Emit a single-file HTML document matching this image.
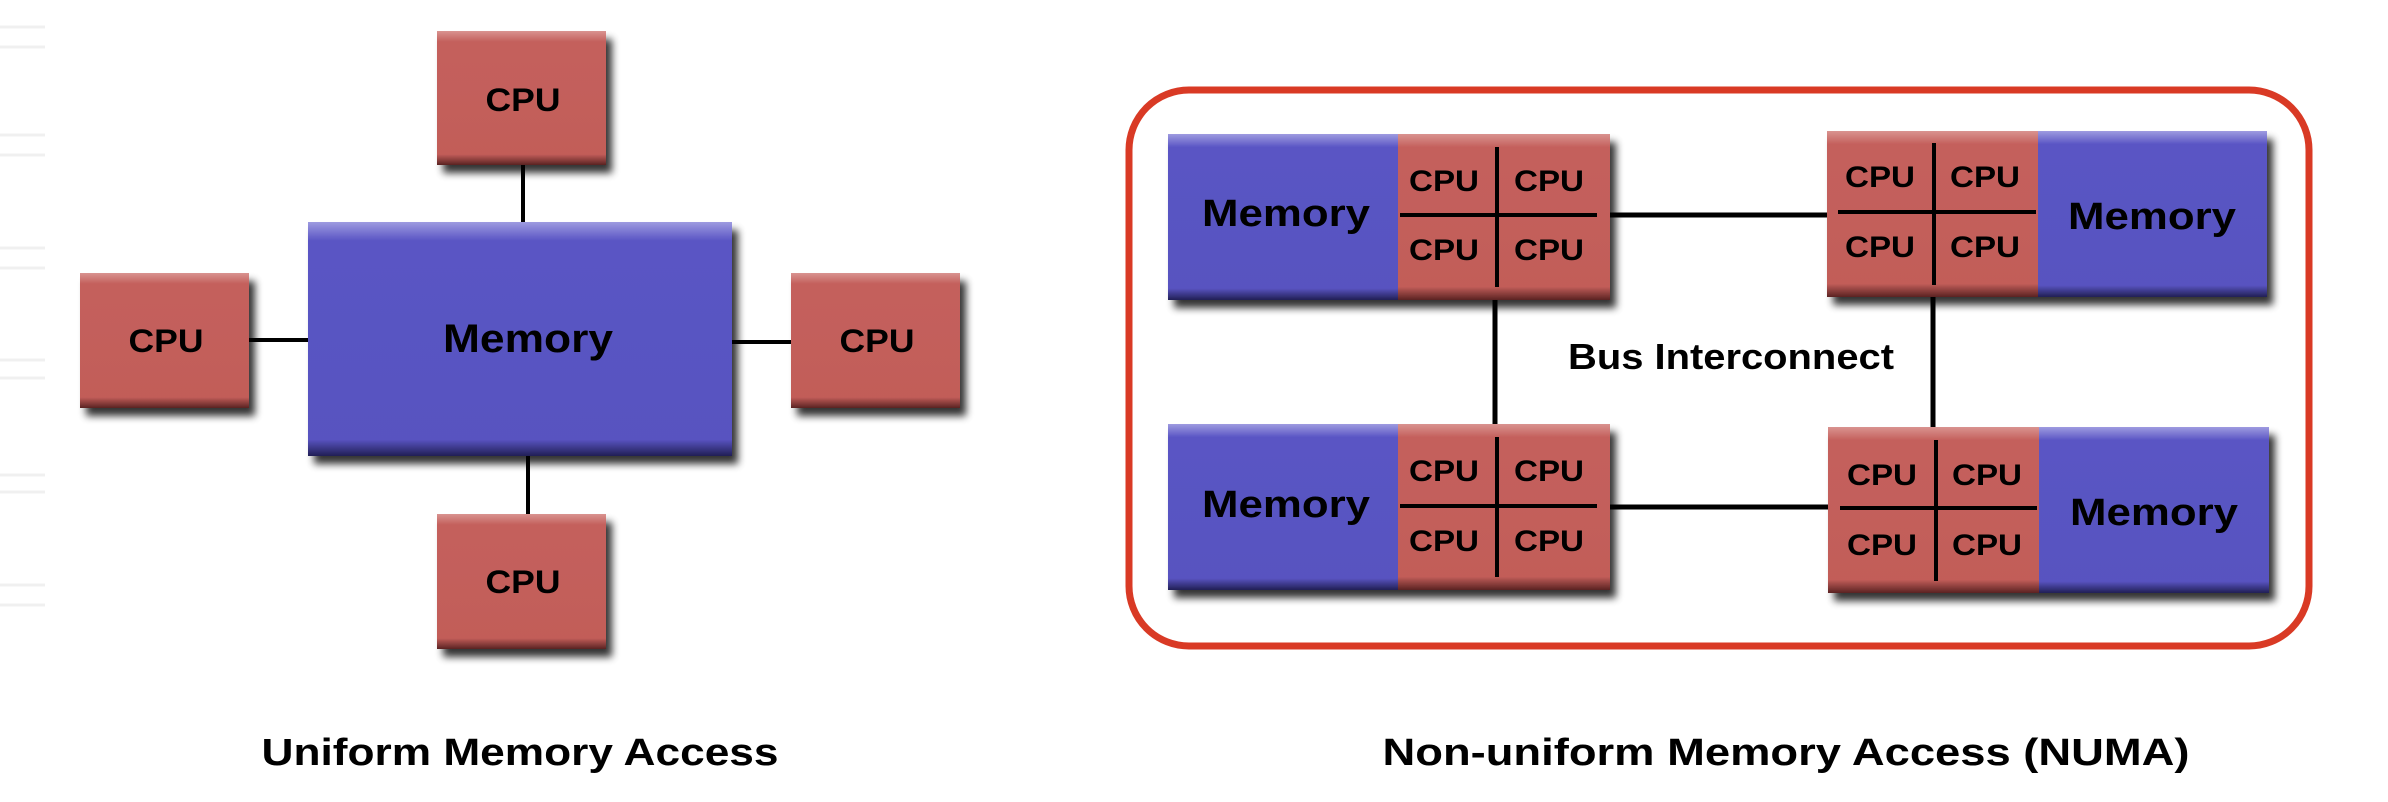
<!DOCTYPE html>
<html><head><meta charset="utf-8"><style>
html,body{margin:0;padding:0;background:#fff;width:2388px;height:802px;overflow:hidden}
svg{display:block}
text{font-family:"Liberation Sans",Arial,sans-serif;font-weight:bold;fill:#000}
</style></head><body>
<svg width="2388" height="802" viewBox="0 0 2388 802" xmlns="http://www.w3.org/2000/svg">
<defs>
<filter id="sh" x="-10%" y="-10%" width="130%" height="140%">
<feGaussianBlur in="SourceAlpha" stdDeviation="4"/>
<feOffset dx="6" dy="8" result="b"/>
<feComponentTransfer><feFuncA type="linear" slope="0.8"/></feComponentTransfer>
<feMerge><feMergeNode/><feMergeNode in="SourceGraphic"/></feMerge>
</filter>
<linearGradient id="rg" x1="0" y1="0" x2="0" y2="1">
<stop offset="0" stop-color="#d99390"/><stop offset="0.08" stop-color="#c4605c"/><stop offset="0.92" stop-color="#c25d59"/><stop offset="1" stop-color="#5a2322"/>
</linearGradient>
<linearGradient id="bg" x1="0" y1="0" x2="0" y2="1">
<stop offset="0" stop-color="#9e9be0"/><stop offset="0.08" stop-color="#5a55c4"/><stop offset="0.93" stop-color="#5853c0"/><stop offset="1" stop-color="#211f55"/>
</linearGradient>
</defs>
<g stroke="#f0f0f0" stroke-width="3">
<line x1="0" y1="27" x2="45" y2="27"/><line x1="0" y1="47" x2="45" y2="47"/>
<line x1="0" y1="135" x2="45" y2="135"/><line x1="0" y1="155" x2="45" y2="155"/>
<line x1="0" y1="248" x2="45" y2="248"/><line x1="0" y1="268" x2="45" y2="268"/>
<line x1="0" y1="360" x2="45" y2="360"/><line x1="0" y1="378" x2="45" y2="378"/>
<line x1="0" y1="475" x2="45" y2="475"/><line x1="0" y1="492" x2="45" y2="492"/>
<line x1="0" y1="585" x2="45" y2="585"/><line x1="0" y1="605" x2="45" y2="605"/>
</g>

<!-- UMA -->
<g stroke="#000" stroke-width="4">
<line x1="523" y1="160" x2="523" y2="225"/>
<line x1="528" y1="455" x2="528" y2="518"/>
<line x1="247" y1="340" x2="310" y2="340"/>
<line x1="732" y1="342" x2="792" y2="342"/>
</g>
<g filter="url(#sh)">
<rect x="437" y="31" width="169" height="134" fill="url(#rg)"/>
<rect x="308" y="222" width="424" height="234" fill="url(#bg)"/>
<rect x="80" y="273" width="169" height="135" fill="url(#rg)"/>
<rect x="791" y="273" width="169" height="135" fill="url(#rg)"/>
<rect x="437" y="514" width="169" height="135" fill="url(#rg)"/>
</g>
<g text-anchor="middle" font-size="32">
<text x="523" y="111" textLength="75" lengthAdjust="spacingAndGlyphs">CPU</text>
<text x="166" y="352" textLength="75" lengthAdjust="spacingAndGlyphs">CPU</text>
<text x="877" y="352" textLength="75" lengthAdjust="spacingAndGlyphs">CPU</text>
<text x="523" y="593" textLength="75" lengthAdjust="spacingAndGlyphs">CPU</text>
<text x="528" y="352" font-size="40" textLength="170" lengthAdjust="spacingAndGlyphs">Memory</text>
</g>
<text x="520" y="765" text-anchor="middle" font-size="38" textLength="517" lengthAdjust="spacingAndGlyphs">Uniform Memory Access</text>

<!-- NUMA -->
<rect x="1129" y="90" width="1180" height="556" rx="60" ry="60" fill="#fff" stroke="#d93a25" stroke-width="7"/>
<g stroke="#000" stroke-width="5">
<line x1="1605" y1="215" x2="1830" y2="215"/>
<line x1="1605" y1="507" x2="1832" y2="507"/>
<line x1="1495" y1="295" x2="1495" y2="428"/>
<line x1="1933" y1="295" x2="1933" y2="430"/>
</g>
<g filter="url(#sh)">
<rect x="1168" y="134" width="230" height="166" fill="url(#bg)"/>
<rect x="1398" y="134" width="212" height="166" fill="url(#rg)"/>
<rect x="1827" y="131" width="211" height="166" fill="url(#rg)"/>
<rect x="2038" y="131" width="229" height="166" fill="url(#bg)"/>
<rect x="1168" y="424" width="230" height="166" fill="url(#bg)"/>
<rect x="1398" y="424" width="212" height="166" fill="url(#rg)"/>
<rect x="1828" y="427" width="211" height="166" fill="url(#rg)"/>
<rect x="2039" y="427" width="230" height="166" fill="url(#bg)"/>
</g>
<g stroke="#000" stroke-width="4">
<line x1="1497" y1="147" x2="1497" y2="287"/><line x1="1400" y1="215" x2="1597" y2="215"/>
<line x1="1934" y1="143" x2="1934" y2="285"/><line x1="1838" y1="212" x2="2036" y2="212"/>
<line x1="1497" y1="437" x2="1497" y2="577"/><line x1="1400" y1="506" x2="1597" y2="506"/>
<line x1="1936" y1="440" x2="1936" y2="581"/><line x1="1840" y1="508" x2="2037" y2="508"/>
</g>
<g text-anchor="middle" font-size="30">
<text x="1444" y="191" textLength="70" lengthAdjust="spacingAndGlyphs">CPU</text>
<text x="1549" y="191" textLength="70" lengthAdjust="spacingAndGlyphs">CPU</text>
<text x="1444" y="260" textLength="70" lengthAdjust="spacingAndGlyphs">CPU</text>
<text x="1549" y="260" textLength="70" lengthAdjust="spacingAndGlyphs">CPU</text>
<text x="1880" y="187" textLength="70" lengthAdjust="spacingAndGlyphs">CPU</text>
<text x="1985" y="187" textLength="70" lengthAdjust="spacingAndGlyphs">CPU</text>
<text x="1880" y="257" textLength="70" lengthAdjust="spacingAndGlyphs">CPU</text>
<text x="1985" y="257" textLength="70" lengthAdjust="spacingAndGlyphs">CPU</text>
<text x="1444" y="481" textLength="70" lengthAdjust="spacingAndGlyphs">CPU</text>
<text x="1549" y="481" textLength="70" lengthAdjust="spacingAndGlyphs">CPU</text>
<text x="1444" y="551" textLength="70" lengthAdjust="spacingAndGlyphs">CPU</text>
<text x="1549" y="551" textLength="70" lengthAdjust="spacingAndGlyphs">CPU</text>
<text x="1882" y="485" textLength="70" lengthAdjust="spacingAndGlyphs">CPU</text>
<text x="1987" y="485" textLength="70" lengthAdjust="spacingAndGlyphs">CPU</text>
<text x="1882" y="555" textLength="70" lengthAdjust="spacingAndGlyphs">CPU</text>
<text x="1987" y="555" textLength="70" lengthAdjust="spacingAndGlyphs">CPU</text>
<g font-size="38">
<text x="1286" y="226" textLength="168" lengthAdjust="spacingAndGlyphs">Memory</text>
<text x="2152" y="229" textLength="168" lengthAdjust="spacingAndGlyphs">Memory</text>
<text x="1286" y="517" textLength="168" lengthAdjust="spacingAndGlyphs">Memory</text>
<text x="2154" y="525" textLength="168" lengthAdjust="spacingAndGlyphs">Memory</text>
</g>
<text x="1731" y="369" font-size="36" textLength="326" lengthAdjust="spacingAndGlyphs">Bus Interconnect</text>
</g>
<text x="1786" y="765" text-anchor="middle" font-size="38" textLength="807" lengthAdjust="spacingAndGlyphs">Non-uniform Memory Access (NUMA)</text>
</svg>
</body></html>
